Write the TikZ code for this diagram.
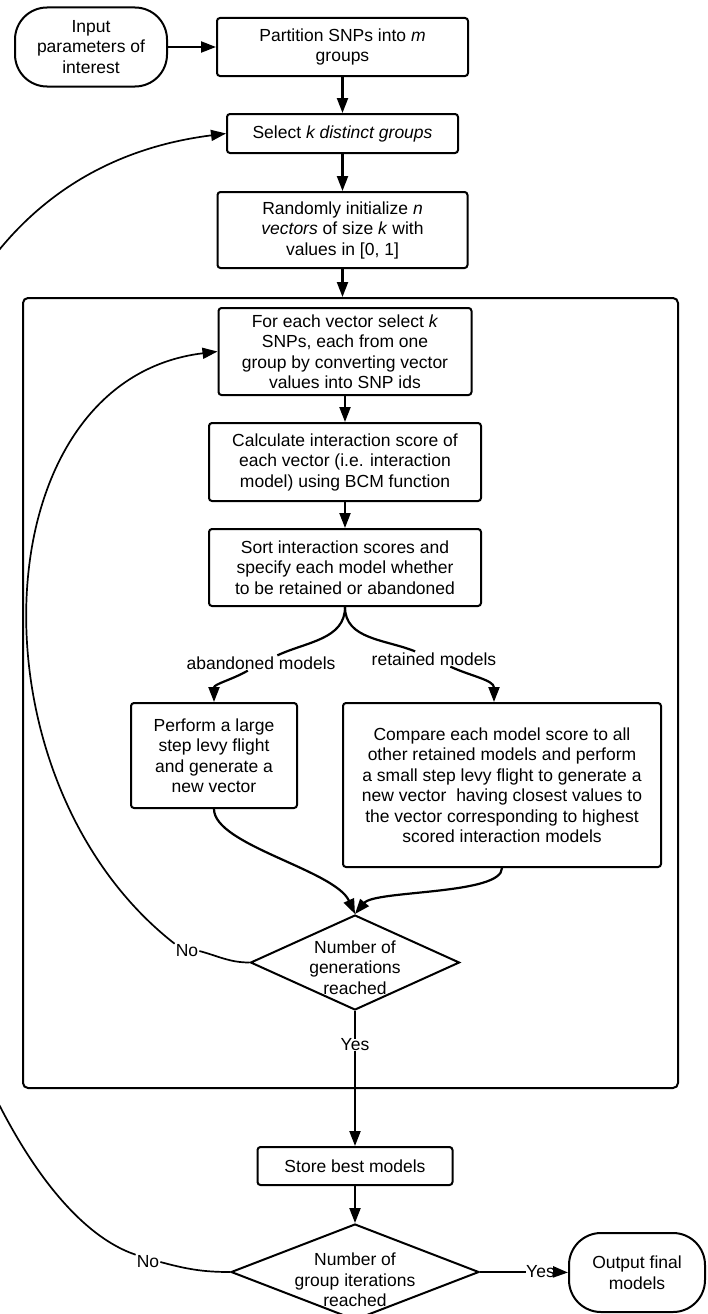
\documentclass[tikz,border=0pt]{standalone}
\usepackage{fontspec}
\setmainfont{Liberation Sans}
\usetikzlibrary{arrows.meta,shapes.geometric,calc}
\begin{document}
\begin{tikzpicture}[x=1pt,y=1pt,
  every node/.style={font=\fontsize{17.5pt}{20.5pt}\selectfont, align=center},
  box/.style={draw, line width=2pt, rounded corners=3pt, inner sep=0pt},
  term/.style={draw, line width=2pt, rounded corners=32pt, inner sep=0pt},
  dia/.style={draw, diamond, line width=2pt, inner sep=0pt},
  lab/.style={inner sep=1pt},
  conn/.style={line width=2.2pt},
  arr/.style={line width=2.2pt, -{Triangle[length=15pt,width=11pt]}},
  looparr/.style={line width=1.7pt, -{Triangle[length=15pt,width=11pt]}},
  loopline/.style={line width=1.7pt},
]
\useasboundingbox (0,0) rectangle (707,-1314);

% container
\node[draw, line width=2pt, rounded corners=5pt, inner sep=0pt,
      minimum width=655pt, minimum height=790pt] (cont) at (350.5,-693) {};

% nodes
\node[term, minimum width=152pt, minimum height=79pt] (inp) at (91,-47)
  {Input\\parameters of\\interest};
\node[box, minimum width=251pt, minimum height=58pt] (part) at (342.5,-47)
  {Partition SNPs into \textit{m}\\groups};
\node[box, minimum width=231pt, minimum height=39pt] (sel) at (342.5,-133.5)
  {Select \textit{k distinct groups}};
\node[box, minimum width=250pt, minimum height=76pt] (rand) at (342.5,-230)
  {Randomly initialize \textit{n}\\\textit{vectors} of size \textit{k} with\\values in [0, 1]};
\node[box, minimum width=253pt, minimum height=87pt] (fe) at (345,-351.5)
  {For each vector select \textit{k}\\SNPs, each from one\\group by converting vector\\values into SNP ids};
\node[box, minimum width=272pt, minimum height=78pt] (calc) at (345,-462)
  {Calculate interaction score of\\each vector (i.e. interaction\\model) using BCM function};
\node[box, minimum width=272pt, minimum height=77pt] (sort) at (345,-567.5)
  {Sort interaction scores and\\specify each model whether\\to be retained or abandoned};
\node[lab] (ablab) at (261,-663) {abandoned models};
\node[lab] (relab) at (434,-659) {retained models};
\node[box, minimum width=166pt, minimum height=105pt] (perf) at (214,-755.5)
  {Perform a large\\step levy flight\\and generate a\\new vector};
\node[box, minimum width=318pt, minimum height=164pt] (comp) at (502,-785)
  {Compare each model score to all\\other retained models and perform\\a small step levy flight to generate a\\new vector\ \ having closest values to\\the vector corresponding to highest\\scored interaction models};
\node[dia, minimum width=209pt, minimum height=95pt] (gen) at (355,-962.5) {};
\node[inner sep=0pt] (gentext) at ($(gen.center)+(0,-5)$) {Number of\\generations\\reached};
\node[lab] (no1) at (187,-951) {No};
\node[lab, inner sep=0pt] (yes1) at (355,-1045) {Yes};
\node[box, minimum width=195pt, minimum height=38pt] (store) at (355,-1166)
  {Store best models};
\node[dia, minimum width=248pt, minimum height=96pt] (grp) at (355,-1272) {};
\node[inner sep=0pt] (grptext) at ($(grp.center)+(0,-8)$) {Number of\\group iterations\\reached};
\node[lab] (no2) at (148,-1262) {No};
\node[lab, inner sep=0pt] (yes2) at (540.5,-1272) {Yes};
\node[term, minimum width=136pt, minimum height=79pt] (out) at (637,-1272.5)
  {Output final\\models};

% main spine
\draw[arr] (inp.east) -- (part.west);
\draw[arr] (part.south) -- (sel.north);
\draw[arr] (sel.south) -- (rand.north);
\draw[arr] (rand.south) -- (rand.south |- cont.north);
\draw[arr] (fe.south) -- (calc.north);
\draw[arr] (calc.south) -- (sort.north);

% branches
\draw[conn] (sort.south) to[out=-90, in=25] (ablab);
\draw[arr] (ablab) to[out=210, in=90] (perf.north);
\draw[conn] (sort.south) to[out=-90, in=158] (relab);
\draw[arr] (relab) to[out=-25, in=90] ([xshift=-8pt]comp.north);

% converge
\draw[arr] (perf.south) .. controls (214,-845) and (335,-870) .. (gen.north);
\draw[arr] (comp.south) .. controls (502,-895) and (375,-890) .. (gen.north);

% inner loop
\draw[loopline] (no1.east) to[out=-15, in=180] (gen.west);
\draw[looparr] (no1.north west) .. controls (-35,-780) and (-20,-380) .. (fe.west);

% yes down
\draw[conn] (gen.south) -- (yes1.north);
\draw[arr] (yes1.south) -- (store.north);
\draw[arr] (store.south) -- (grp.north);

% outer loop
\draw[loopline] (no2.east) to[out=-15, in=180] (grp.west);
\draw[looparr] (no2.north west) .. controls (-100,-1175) and (-300,-200) .. (sel.west);

% final yes
\draw[conn] (grp.east) -- (yes2.west);
\draw[arr] (yes2.east) -- (out.west);
\end{tikzpicture}
\end{document}
